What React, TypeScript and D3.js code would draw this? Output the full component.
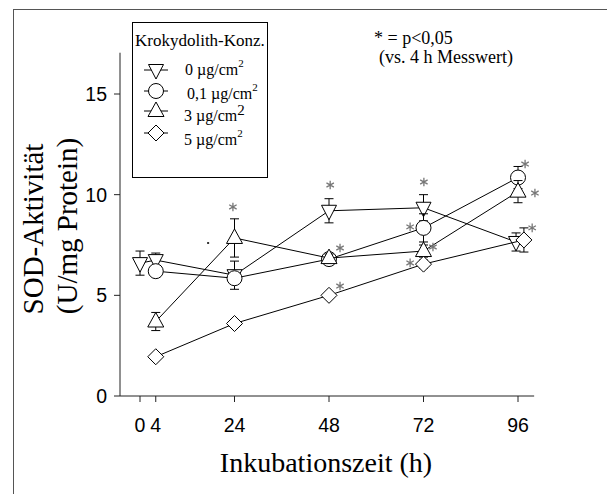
import React from "react";
import * as d3 from "d3";

// ---- data ----
const xTicks = [0, 4, 24, 48, 72, 96];
const yTicks = [0, 5, 10, 15];

const seriesNames = ["0 µg/cm", "0,1 µg/cm", "3 µg/cm", "5 µg/cm"];

const time0 = [0, 4, 24, 48, 72, 95.5];
const val0 = [6.6, 6.75, 6.0, 9.2, 9.35, 7.65];
const err0 = [0.6, 0.35, 0.7, 0.6, 0.65, 0.45];

const time01 = [4, 24, 48, 72, 96];
const val01 = [6.2, 5.85, 6.8, 8.35, 10.85];
const err01 = [0.15, 0.15, 0.2, 0.7, 0.55];

const time3 = [4, 24, 48, 72, 96];
const val3 = [3.7, 7.85, 6.85, 7.2, 10.15];
const err3 = [0.45, 0.95, 0.2, 0.3, 0.55];

const time5 = [4, 24, 48, 72, 97.5];
const val5 = [1.95, 3.6, 5.0, 6.55, 7.75];
const err5 = [0.1, 0.1, 0.1, 0.2, 0.6];

// significance asterisks (time, value positions)
const starTime = [23.6, 48.3, 50.8, 50.8, 72.1, 68.6, 74.4, 68.6, 97.8, 100.3, 99.6];
const starVal = [9.39, 10.48, 7.35, 5.46, 10.63, 8.4, 7.4, 6.61, 11.52, 10.08, 8.35];

type Kind = "down" | "circle" | "up" | "diamond";
const kinds: Kind[] = ["down", "circle", "up", "diamond"];

const series = [
  { t: time0, v: val0, e: err0 },
  { t: time01, v: val01, e: err01 },
  { t: time3, v: val3, e: err3 },
  { t: time5, v: val5, e: err5 },
];

function Marker({ kind, x, y }: { kind: Kind; x: number; y: number }) {
  const common = { fill: "#fff", stroke: "#000", strokeWidth: 1 };
  if (kind === "circle") return <circle cx={x} cy={y} r={7.5} {...common} />;
  let pts: [number, number][];
  if (kind === "down") pts = [[-7.5, -5.5], [7.5, -5.5], [0, 9]];
  else if (kind === "up") pts = [[-8, 5.5], [8, 5.5], [0, -9]];
  else pts = [[0, -8], [8, 0], [0, 8], [-8, 0]];
  return (
    <polygon
      points={pts.map(([a, b]) => `${x + a},${y + b}`).join(" ")}
      {...common}
    />
  );
}

function Star({ x, y }: { x: number; y: number }) {
  const r = 4.3;
  const t = (r * Math.sqrt(3)) / 2;
  const u = r / 2;
  const d = `M${x},${y - r}L${x},${y + r}M${x - t},${y - u}L${x + t},${y + u}M${x - t},${y + u}L${x + t},${y - u}`;
  return <path d={d} stroke="#777" strokeWidth={1.3} fill="none" />;
}

export default function App() {
  const x = d3.scaleLinear().domain([0, 96]).range([140, 518]);
  const y = d3.scaleLinear().domain([0, 15]).range([396, 94]);
  const line = d3
    .line<[number, number]>()
    .x((d) => x(d[0]))
    .y((d) => y(d[1]));

  const serif = "'Liberation Serif', 'Times New Roman', serif";
  const sans = "'Liberation Sans', Arial, sans-serif";

  const legendY = [70, 91, 111, 133];
  const legendTextY = [75, 99, 121, 145];
  const legendTextX = [185, 187, 184, 184];

  return (
    <svg
      width={607}
      height={494}
      style={{ position: "absolute", left: 0, top: 0, background: "#fff" }}
    >
      {/* outer frame */}
      <rect x={13.5} y={9.5} width={620} height={500} fill="none" stroke="#555" strokeWidth={1} />

      {/* axes */}
      <line x1={120} x2={120} y1={y(17.05)} y2={396} stroke="#222" />
      <line x1={120} x2={x(100.1)} y1={396} y2={396} stroke="#222" />
      {yTicks.map((t) => (
        <g key={"y" + t}>
          <line x1={114} x2={120} y1={y(t)} y2={y(t)} stroke="#222" />
          <text
            x={107}
            y={y(t) + 7}
            textAnchor="end"
            fontFamily={sans}
            fontSize={19.5}
            fill="#000"
          >
            {t}
          </text>
        </g>
      ))}
      {xTicks.map((t) => (
        <g key={"x" + t}>
          <line x1={x(t)} x2={x(t)} y1={396} y2={402} stroke="#222" />
          <text
            x={x(t)}
            y={432}
            textAnchor="middle"
            fontFamily={sans}
            fontSize={19.5}
            fill="#000"
          >
            {t}
          </text>
        </g>
      ))}

      {/* axis titles */}
      <text x={326} y={472} textAnchor="middle" fontFamily={serif} fontSize={28}>
        Inkubationszeit (h)
      </text>
      <text
        transform="translate(43,229) rotate(-90)"
        textAnchor="middle"
        fontFamily={serif}
        fontSize={29}
      >
        SOD-Aktivität
      </text>
      <text
        transform="translate(77,226) rotate(-90)"
        textAnchor="middle"
        fontFamily={serif}
        fontSize={29}
      >
        (U/mg Protein)
      </text>

      {/* stray dot */}
      <rect x={x(17.3) - 1} y={y(7.6) - 1} width={2} height={2} fill="#333" />

      {/* series */}
      {series.map((s, si) => {
        const pts = s.t.map((t, i) => [t, s.v[i]] as [number, number]);
        return (
          <g key={"s" + si}>
            <path d={line(pts) || ""} fill="none" stroke="#000" strokeWidth={1} />
            {pts.map(([t, v], i) => {
              const cx = x(t);
              const hi = y(v + s.e[i]);
              const lo = y(v - s.e[i]);
              return (
                <g key={"e" + i} stroke="#000" strokeWidth={1}>
                  <line x1={cx} x2={cx} y1={hi} y2={lo} />
                  <line x1={cx - 4.5} x2={cx + 4.5} y1={hi} y2={hi} />
                  <line x1={cx - 4.5} x2={cx + 4.5} y1={lo} y2={lo} />
                </g>
              );
            })}
            {pts.map(([t, v], i) => (
              <Marker key={"m" + i} kind={kinds[si]} x={x(t)} y={y(v)} />
            ))}
          </g>
        );
      })}

      {/* asterisks */}
      {starTime.map((t, i) => (
        <Star key={"st" + i} x={x(t)} y={y(starVal[i])} />
      ))}

      {/* legend */}
      <rect x={132.5} y={22.5} width={135} height={155} fill="#fff" stroke="#000" strokeWidth={1} />
      <text x={135} y={46} fontFamily={serif} fontSize={17}>
        Krokydolith-Konz.
      </text>
      {seriesNames.map((name, i) => (
        <g key={"l" + i}>
          <line x1={144} x2={168} y1={legendY[i]} y2={legendY[i]} stroke="#000" />
          <Marker kind={kinds[i]} x={156} y={legendY[i]} />
          <text x={legendTextX[i]} y={legendTextY[i]} fontFamily={serif} fontSize={16}>
            {name}
            <tspan
              dy={i === 2 ? -6 : -8}
              fontSize={i === 2 ? 15 : 11}
            >
              2
            </tspan>
          </text>
        </g>
      ))}

      {/* note */}
      <text x={374} y={44} fontFamily={serif} fontSize={18}>
        * = p&lt;0,05
      </text>
      <text x={379} y={63} fontFamily={serif} fontSize={18}>
        (vs. 4 h Messwert)
      </text>
    </svg>
  );
}
